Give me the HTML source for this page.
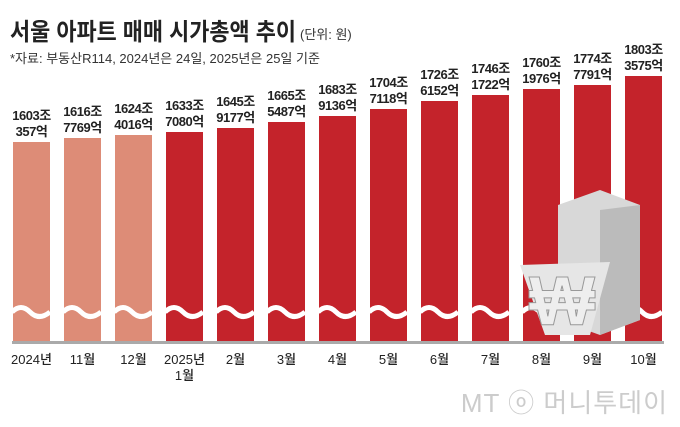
<!DOCTYPE html><html><head><meta charset="utf-8"><style>
body{margin:0;width:680px;height:422px;background:#fff;overflow:hidden;font-family:"Liberation Sans","Noto Sans CJK KR",sans-serif}
</style></head><body>
<svg width="680" height="422" xmlns="http://www.w3.org/2000/svg" style="font-family:'Liberation Sans','Noto Sans CJK KR',sans-serif">
<text x="10" y="40" font-size="24" font-weight="bold" fill="#222" textLength="286" lengthAdjust="spacingAndGlyphs">서울 아파트 매매 시가총액 추이</text>
<text x="300" y="39" font-size="13" fill="#333">(단위: 원)</text>
<text x="10" y="63" font-size="13" fill="#333">*자료: 부동산R114, 2024년은 24일, 2025년은 25일 기준</text>
<g id="bars"></g>
<rect x="12" y="341" width="652" height="3" fill="#aaa"/>
<g font-size="13" fill="#222" text-anchor="middle" font-weight="500" id="xl"></g>
<text x="668" y="412" text-anchor="end" font-size="26" fill="#ccc" letter-spacing="1">MT ⓞ 머니투데이</text>
</svg>
<script>
var tops=[142,138,135,132,128,122,116,109,101,95,89,85,76];
var a=["1603조","1616조","1624조","1633조","1645조","1665조","1683조","1704조","1726조","1746조","1760조","1774조","1803조"];
var b=["357억","7769억","4016억","7080억","9177억","5487억","9136억","7118억","6152억","1722억","1976억","7791억","3575억"];
var xl=["2024년","11월","12월","2025년","2월","3월","4월","5월","6월","7월","8월","9월","10월"];
var s="",t="";
for(var i=0;i<13;i++){var x=13+51*i,c=x+18.5,col=i<3?"#dd8c77":"#c4232b";
s+='<rect x="'+x+'" y="'+tops[i]+'" width="37" height="'+(341-tops[i])+'" fill="'+col+'"/>';
s+='<path d="M'+(x-1)+' 312 q9 -9 18 0 t20 0" stroke="#fff" stroke-width="5" fill="none"/>';
s+='<text x="'+c+'" y="'+(tops[i]-22)+'" font-size="13" font-weight="bold" text-anchor="middle" fill="#222" letter-spacing="-0.5">'+a[i]+'</text>';
s+='<text x="'+c+'" y="'+(tops[i]-6)+'" font-size="13" font-weight="bold" text-anchor="middle" fill="#222" letter-spacing="-0.5">'+b[i]+'</text>';
t+='<text x="'+c+'" y="364">'+xl[i]+'</text>';}
t+='<text x="'+(13+51*3+18.5)+'" y="380">1월</text>';
s+='<g><polygon points="558,205 600,190 640,205 640,320 600,335 558,320" fill="#d8d8d8"/><polygon points="600,210 640,205 640,320 600,335" fill="#bbb"/><polygon points="520,265 610,262 590,335 545,335" fill="#e6e6e6"/><text x="562" y="325" font-size="70" font-weight="bold" fill="#eee" stroke="#999" text-anchor="middle">₩</text></g>';
document.getElementById("bars").innerHTML=s;document.getElementById("xl").innerHTML=t;
</script>
</body></html>
